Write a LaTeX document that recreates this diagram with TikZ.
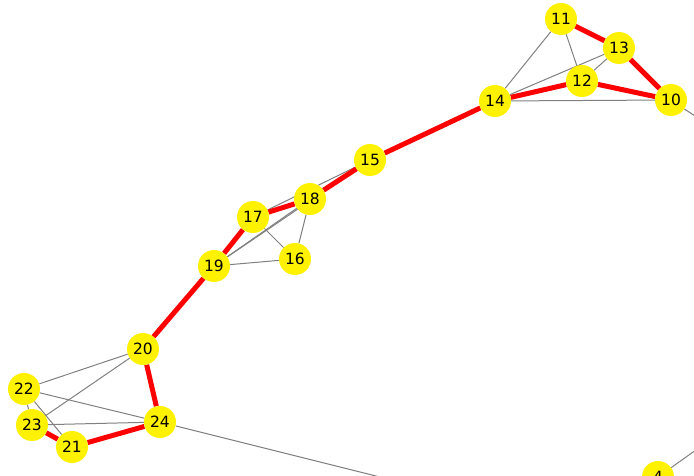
\documentclass[tikz,border=0pt]{standalone}
\usepackage{fontspec}
\setmainfont{DejaVu Sans}
\usepackage{tikz}
\usetikzlibrary{backgrounds}
\tikzset{
  vert/.style={circle,fill=yellow,inner sep=0pt,minimum size=32pt,font=\fontsize{15.5}{18}\selectfont},
  plain/.style={draw=gray,line width=1pt},
  hot/.style={draw=red,line width=5pt}
}

\begin{document}
\begin{tikzpicture}[x=1pt,y=-1pt]
		\useasboundingbox (0,0) rectangle (694,476);
		\node[vert] (n10) at (671,100) {10};
		\node[vert] (n11) at (561,19)  {11};
		\node[vert] (n12) at (582,81)  {12};
		\node[vert] (n13) at (619,48)  {13};
		\node[vert] (n14) at (495,101) {14};
		\node[vert] (n15) at (370,160) {15};
		\node[vert] (n16) at (295,259) {16};
		\node[vert] (n17) at (253,217) {17};
		\node[vert] (n18) at (310,199) {18};
		\node[vert] (n19) at (214,266) {19};
		\node[vert] (n20) at (143,349) {20};
		\node[vert] (n21) at (72,447)  {21};
		\node[vert] (n22) at (24,389)  {22};
		\node[vert] (n23) at (32,425)  {23};
		\node[vert] (n24) at (160,422) {24};
		\node[vert] (n4)  at (658,477) {4};
		\coordinate (o10) at (710,126);
		\coordinate (o24) at (400,482);
		\coordinate (o4)  at (710,440);
		\begin{pgfonlayer}{background}
		\path[plain]
		(n11) edge (n14) (n11) edge (n12) (n13) edge (n12) (n13) edge (n14)
		(n14) edge (n10) (n10) edge (o10)
		(n15) edge (n17) (n15) edge (n19) (n18) edge (n19)
		(n17) edge (n16) (n18) edge (n16) (n19) edge (n16)
		(n20) edge (n22) (n20) edge (n23) (n22) edge (n24) (n22) edge (n21)
		(n22) edge (n23) (n23) edge (n24) (n24) edge (o24) (n4) edge (o4);
		\path[hot]
		(n11) edge (n13) (n13) edge (n10) (n10) edge (n12) (n12) edge (n14)
		(n14) edge (n15) (n15) edge (n18) (n18) edge (n17) (n17) edge (n19)
		(n19) edge (n20) (n20) edge (n24) (n24) edge (n21) (n21) edge (n23);
		\end{pgfonlayer}
\end{tikzpicture}
\end{document}
